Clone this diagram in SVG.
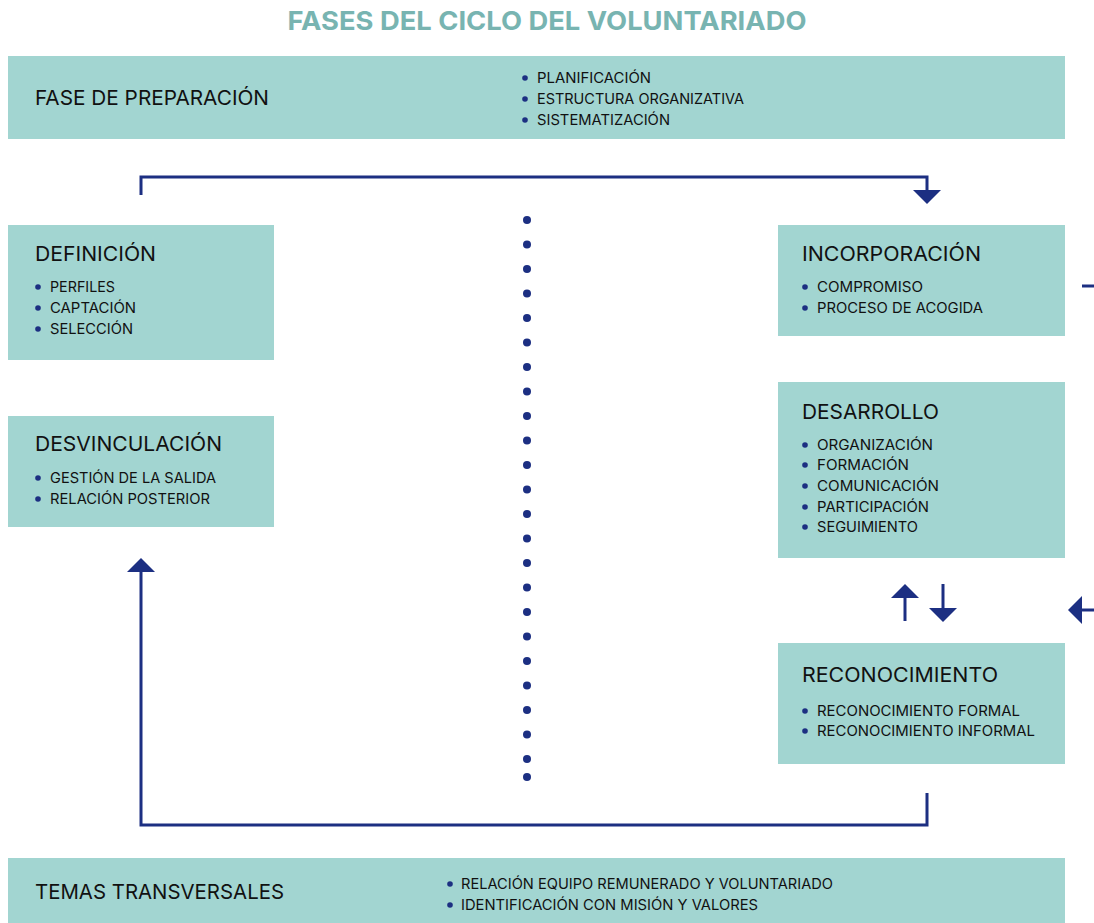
<svg xmlns="http://www.w3.org/2000/svg" width="1094" height="923" viewBox="0 0 1094 923">
<style>
.box{fill:#a2d5d1}
.h{font-family:Inter,"Liberation Sans",sans-serif;font-size:20px;fill:#111}
.t{font-family:Inter,"Liberation Sans",sans-serif;font-size:14px;fill:#111}
.b{fill:#1c2f82}
.ln{fill:none;stroke:#1c2f82;stroke-width:3}
.title{font-family:Inter,"Liberation Sans",sans-serif;font-size:26px;font-weight:bold;fill:#78b4b1}
</style>
<defs>
<marker id="ah" viewBox="0 0 14 28" refX="0" refY="14" markerWidth="14" markerHeight="28" markerUnits="userSpaceOnUse" orient="auto">
<path d="M0,0 L14,14 L0,28 Z" fill="#1c2f82"/>
</marker>
</defs>
<rect width="1094" height="923" fill="#fff"/>
<text class="title" x="547" y="30" text-anchor="middle" textLength="519" lengthAdjust="spacingAndGlyphs">FASES DEL CICLO DEL VOLUNTARIADO</text>

<g id="preparacion">
<rect class="box" x="8" y="56" width="1057" height="83"/>
<text class="h" x="35" y="105" textLength="234" lengthAdjust="spacingAndGlyphs">FASE DE PREPARACIÓN</text>
<circle class="b" cx="525" cy="78" r="2.8"/><text class="t" x="537" y="83" textLength="114" lengthAdjust="spacingAndGlyphs">PLANIFICACIÓN</text>
<circle class="b" cx="525" cy="99" r="2.8"/><text class="t" x="537" y="104" textLength="207" lengthAdjust="spacingAndGlyphs">ESTRUCTURA ORGANIZATIVA</text>
<circle class="b" cx="525" cy="120" r="2.8"/><text class="t" x="537" y="125" textLength="133" lengthAdjust="spacingAndGlyphs">SISTEMATIZACIÓN</text>
</g>

<g id="definicion">
<rect class="box" x="8" y="225" width="266" height="135"/>
<text class="h" x="35" y="261" textLength="121" lengthAdjust="spacingAndGlyphs">DEFINICIÓN</text>
<circle class="b" cx="38" cy="287" r="2.8"/><text class="t" x="50" y="292" textLength="65" lengthAdjust="spacingAndGlyphs">PERFILES</text>
<circle class="b" cx="38" cy="308" r="2.8"/><text class="t" x="50" y="313" textLength="86" lengthAdjust="spacingAndGlyphs">CAPTACIÓN</text>
<circle class="b" cx="38" cy="329" r="2.8"/><text class="t" x="50" y="334" textLength="83" lengthAdjust="spacingAndGlyphs">SELECCIÓN</text>
</g>

<g id="desvinculacion">
<rect class="box" x="8" y="416" width="266" height="111"/>
<text class="h" x="35" y="451" textLength="187" lengthAdjust="spacingAndGlyphs">DESVINCULACIÓN</text>
<circle class="b" cx="38" cy="478" r="2.8"/><text class="t" x="50" y="483" textLength="166" lengthAdjust="spacingAndGlyphs">GESTIÓN DE LA SALIDA</text>
<circle class="b" cx="38" cy="499" r="2.8"/><text class="t" x="50" y="504" textLength="160" lengthAdjust="spacingAndGlyphs">RELACIÓN POSTERIOR</text>
</g>

<g id="incorporacion">
<rect class="box" x="778" y="225" width="287" height="111"/>
<text class="h" x="802" y="261" textLength="179" lengthAdjust="spacingAndGlyphs">INCORPORACIÓN</text>
<circle class="b" cx="805" cy="287" r="2.8"/><text class="t" x="817" y="292" textLength="106" lengthAdjust="spacingAndGlyphs">COMPROMISO</text>
<circle class="b" cx="805" cy="308" r="2.8"/><text class="t" x="817" y="313" textLength="166" lengthAdjust="spacingAndGlyphs">PROCESO DE ACOGIDA</text>
</g>

<g id="desarrollo">
<rect class="box" x="778" y="382" width="287" height="176"/>
<text class="h" x="802" y="419" textLength="137" lengthAdjust="spacingAndGlyphs">DESARROLLO</text>
<circle class="b" cx="805" cy="445" r="2.8"/><text class="t" x="817" y="450" textLength="116" lengthAdjust="spacingAndGlyphs">ORGANIZACIÓN</text>
<circle class="b" cx="805" cy="465" r="2.8"/><text class="t" x="817" y="470" textLength="92" lengthAdjust="spacingAndGlyphs">FORMACIÓN</text>
<circle class="b" cx="805" cy="486" r="2.8"/><text class="t" x="817" y="491" textLength="122" lengthAdjust="spacingAndGlyphs">COMUNICACIÓN</text>
<circle class="b" cx="805" cy="507" r="2.8"/><text class="t" x="817" y="512" textLength="112" lengthAdjust="spacingAndGlyphs">PARTICIPACIÓN</text>
<circle class="b" cx="805" cy="527" r="2.8"/><text class="t" x="817" y="532" textLength="101" lengthAdjust="spacingAndGlyphs">SEGUIMIENTO</text>
</g>

<g id="reconocimiento">
<rect class="box" x="778" y="643" width="287" height="121"/>
<text class="h" x="802" y="682" textLength="196" lengthAdjust="spacingAndGlyphs">RECONOCIMIENTO</text>
<circle class="b" cx="805" cy="711" r="2.8"/><text class="t" x="817" y="716" textLength="203" lengthAdjust="spacingAndGlyphs">RECONOCIMIENTO FORMAL</text>
<circle class="b" cx="805" cy="731" r="2.8"/><text class="t" x="817" y="736" textLength="218" lengthAdjust="spacingAndGlyphs">RECONOCIMIENTO INFORMAL</text>
</g>

<g id="transversales">
<rect class="box" x="8" y="858" width="1057" height="65"/>
<text class="h" x="35" y="899" textLength="249" lengthAdjust="spacingAndGlyphs">TEMAS TRANSVERSALES</text>
<circle class="b" cx="450" cy="884" r="2.8"/><text class="t" x="461" y="889" textLength="372" lengthAdjust="spacingAndGlyphs">RELACIÓN EQUIPO REMUNERADO Y VOLUNTARIADO</text>
<circle class="b" cx="450" cy="905" r="2.8"/><text class="t" x="461" y="910" textLength="297" lengthAdjust="spacingAndGlyphs">IDENTIFICACIÓN CON MISIÓN Y VALORES</text>
</g>

<g id="dots" class="b">
<circle cx="527" cy="220" r="4"/><circle cx="527" cy="244.5" r="4"/><circle cx="527" cy="269" r="4"/><circle cx="527" cy="293.5" r="4"/>
<circle cx="527" cy="318" r="4"/><circle cx="527" cy="342.5" r="4"/><circle cx="527" cy="367" r="4"/><circle cx="527" cy="391.5" r="4"/>
<circle cx="527" cy="416" r="4"/><circle cx="527" cy="440.5" r="4"/><circle cx="527" cy="465" r="4"/><circle cx="527" cy="489.5" r="4"/>
<circle cx="527" cy="514" r="4"/><circle cx="527" cy="538.5" r="4"/><circle cx="527" cy="563" r="4"/><circle cx="527" cy="587.5" r="4"/>
<circle cx="527" cy="612" r="4"/><circle cx="527" cy="636.5" r="4"/><circle cx="527" cy="661" r="4"/><circle cx="527" cy="685.5" r="4"/>
<circle cx="527" cy="710" r="4"/><circle cx="527" cy="734.5" r="4"/><circle cx="527" cy="759" r="4"/><circle cx="527" cy="777" r="4"/>
</g>

<g id="connectors">
<path class="ln" d="M141,195 V177 H927 V190" marker-end="url(#ah)"/>
<path class="ln" d="M927,793 V825 H141 V572" marker-end="url(#ah)"/>
<path class="ln" d="M905,621 V598" marker-end="url(#ah)"/>
<path class="ln" d="M943,584 V608" marker-end="url(#ah)"/>
<path class="ln" d="M1094,610 H1082" marker-end="url(#ah)"/>
<path class="ln" d="M1082,286 H1094"/>
</g>
</svg>
